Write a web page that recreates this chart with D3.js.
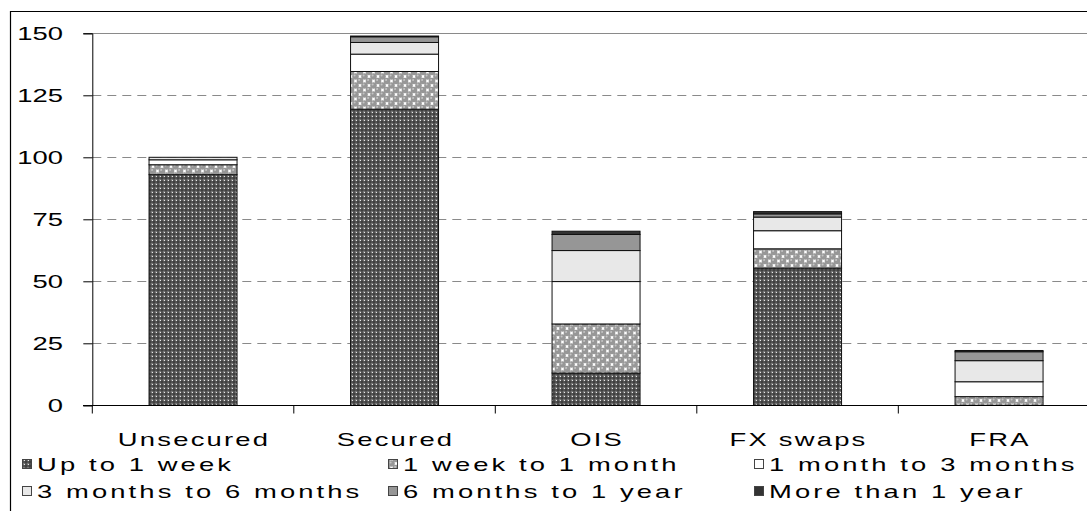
<!DOCTYPE html>
<html><head><meta charset="utf-8">
<script src="https://cdn.jsdelivr.net/npm/d3@7"></script>
<style>html,body{margin:0;padding:0;background:#fff;}svg{display:block;}</style>
</head><body>
<svg id="chart" width="1087" height="511"></svg>
<script>
const categories = ["Unsecured", "Secured", "OIS", "FX swaps", "FRA"];
const seriesNames = ["Up to 1 week", "1 week to 1 month", "1 month to 3 months",
  "3 months to 6 months", "6 months to 1 year", "More than 1 year"];
const upTo1Week      = [93.0, 119.4, 13.0, 55.3, 0.0];
const week1ToMonth1  = [4.0, 15.2, 19.8, 7.8, 3.5];
const month1To3      = [2.0, 7.0, 17.1, 7.3, 6.0];
const month3To6      = [1.0, 4.7, 12.5, 5.5, 8.5];
const month6ToYear1  = [0.0, 2.3, 6.5, 1.3, 3.6];
const moreThanYear1  = [0.0, 0.3, 1.3, 0.9, 0.5];
const yTicks = [0, 25, 50, 75, 100, 125, 150];

const seriesValues = [upTo1Week, week1ToMonth1, month1To3, month3To6, month6ToYear1, moreThanYear1];
const fills = ["url(#pDark)", "url(#pBalls)", "#ffffff", "#e8e8e8", "#969696", "#333333"];

const svg = d3.select("#chart");
const FONT = "'Liberation Sans', Arial, sans-serif";
const SX = 1.48, FS = 18.5;

// patterns
const defs = svg.append("defs");
const p1 = defs.append("pattern").attr("id", "pDark").attr("patternUnits", "userSpaceOnUse")
  .attr("width", 4).attr("height", 4);
p1.append("rect").attr("width", 4).attr("height", 4).attr("fill", "#767676");
p1.append("rect").attr("x", 0).attr("y", 1.5).attr("width", 4).attr("height", 1).attr("fill", "#2e2e2e");
p1.append("rect").attr("x", 1.5).attr("y", 0).attr("width", 1).attr("height", 4).attr("fill", "#2e2e2e");
p1.append("rect").attr("x", 0).attr("y", 0).attr("width", 1).attr("height", 1).attr("fill", "#e6e6e6");

const p2 = defs.append("pattern").attr("id", "pBalls").attr("patternUnits", "userSpaceOnUse")
  .attr("width", 9).attr("height", 9);
p2.append("rect").attr("width", 9).attr("height", 9).attr("fill", "#fff");
[[4.5,4.5],[0,0],[9,0],[0,9],[9,9]].forEach(([cx, cy]) => {
  p2.append("circle").attr("cx", cx).attr("cy", cy).attr("r", 3.3).attr("fill", "#979797");
  p2.append("circle").attr("cx", cx - 0.9).attr("cy", cy - 1.1).attr("r", 1.0).attr("fill", "#c4c4c4");
});

// outer frame
svg.append("path").attr("d", "M10.5,520 V11.5 H1100").attr("fill", "none")
  .attr("stroke", "#000").attr("stroke-width", 1.2);

const y = d3.scaleLinear().domain([0, 150]).range([405.3, 33.3]);
const x = d3.scaleBand().domain(categories).range([92.3, 1099.8])
  .paddingInner(0.5633).paddingOuter(0.2816);

// gridlines
svg.append("g").selectAll("line").data(yTicks.filter(t => t > 0)).join("line")
  .attr("x1", 92.3).attr("x2", 1087).attr("y1", d => Math.round(y(d)) + 0.5).attr("y2", d => Math.round(y(d)) + 0.5)
  .attr("stroke", "#8a8a8a").attr("stroke-width", 1)
  .attr("stroke-dasharray", d => d === 150 ? null : "9,6");

// stacked bars
const table = categories.map((c, i) => {
  const o = { category: c };
  seriesNames.forEach((s, k) => o[s] = seriesValues[k][i]);
  return o;
});
const stacked = d3.stack().keys(seriesNames)(table);
const gBars = svg.append("g");
stacked.forEach((layer, k) => {
  gBars.append("g").selectAll("rect").data(layer.filter(d => d[1] - d[0] > 0)).join("rect")
    .attr("x", d => x(d.data.category))
    .attr("width", x.bandwidth())
    .attr("y", d => y(d[1]))
    .attr("height", d => y(d[0]) - y(d[1]))
    .attr("fill", fills[k])
    .attr("stroke", "#111").attr("stroke-width", 1);
});

// y axis
const yAxis = d3.axisLeft(y).tickValues(yTicks).tickSize(9).tickFormat("");
const gy = svg.append("g").attr("transform", "translate(92.3,0)").call(yAxis);
gy.select(".domain").attr("stroke", "#000");
gy.selectAll(".tick line").attr("stroke", "#000");

function stretchText(parent, tx, ty, txt, anchor, ls) {
  return parent.append("text")
    .attr("transform", `translate(${tx},${ty}) scale(${SX},1)`)
    .attr("text-anchor", anchor)
    .attr("letter-spacing", ls || 0)
    .attr("font-family", FONT).attr("font-size", FS).attr("fill", "#000")
    .text(txt);
}
yTicks.forEach(t => stretchText(svg, 63, y(t) + 6.5, String(t), "end"));

// x axis
const step = x.step();
const x0 = x.range()[0];
svg.append("line").attr("x1", 83).attr("x2", 1087).attr("y1", 405.5).attr("y2", 405.5)
  .attr("stroke", "#000").attr("stroke-width", 1);
svg.append("g").selectAll("line").data(d3.range(categories.length)).join("line")
  .attr("x1", i => x0 + i * step).attr("x2", i => x0 + i * step)
  .attr("y1", 405.5).attr("y2", 413.5).attr("stroke", "#000");
categories.forEach(c => stretchText(svg, x(c) + x.bandwidth() / 2 + 1, 446, c, "middle", 1.5));

// legend
const legX = [22, 388, 754];
const legY = [471, 498];
seriesNames.forEach((s, k) => {
  const col = k % 3, row = Math.floor(k / 3);
  svg.append("rect").attr("x", legX[col] + 0.5).attr("y", legY[row] - 11.5)
    .attr("width", 9).attr("height", 9)
    .attr("fill", fills[k]).attr("stroke", "#444").attr("stroke-width", 1);
  stretchText(svg, legX[col] + 15, legY[row], s, "start", 2.1);
});
</script>
</body></html>
